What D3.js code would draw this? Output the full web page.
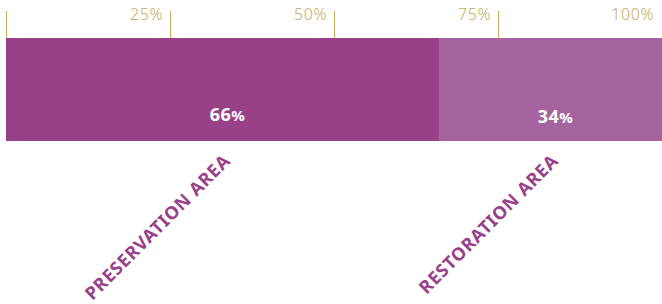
<!DOCTYPE html>
<html><head><meta charset="utf-8">
<script src="https://cdn.jsdelivr.net/npm/d3@7"></script>
<style>body{margin:0;background:#fff;} svg{display:block;}</style>
</head><body>
<svg id="c" width="662" height="304"></svg>
<script>
const categories = ["PRESERVATION AREA", "RESTORATION AREA"];
const values = [66, 34];
const tickValues = [0, 25, 50, 75, 100];
const tickLabels = ["", "25%", "50%", "75%", "100%"];
const colors = ["#984189", "#a5649e"];

const svg = d3.select("#c");
const x = d3.scaleLinear().domain([0, 100]).range([6, 662]);
const barTop = 38, barH = 103;

let cum = 0;
const segs = values.map((v, i) => { const s = {v, i, x0: cum, x1: cum + v, cat: categories[i]}; cum += v; return s; });

svg.selectAll("rect.bar").data(segs).join("rect")
  .attr("x", d => x(d.x0)).attr("y", barTop)
  .attr("width", d => x(d.x1) - x(d.x0)).attr("height", barH)
  .attr("fill", d => colors[d.i]);

// axis ticks
const ax = svg.append("g");
ax.selectAll("line").data(tickValues.filter(t => t < 100)).join("line")
  .attr("x1", d => Math.round(x(d)) + 0.5).attr("x2", d => Math.round(x(d)) + 0.5)
  .attr("y1", 11).attr("y2", barTop)
  .attr("stroke", "#c4ad5c").attr("stroke-width", 1);
ax.selectAll("text").data(tickValues).join("text")
  .attr("x", d => d === 100 ? x(d) - 8 : x(d) - 7).attr("y", 20)
  .attr("text-anchor", "end")
  .attr("font-family", "'Noto Sans', sans-serif").attr("font-weight", 300).attr("font-size", 16)
  .attr("letter-spacing", 0.6)
  .attr("fill", "#c4ad5c")
  .text((d, i) => tickLabels[i]);

// value labels
const vl = svg.selectAll("text.val").data(segs).join("text").attr("class", "val")
  .attr("x", d => (x(d.x0) + x(d.x1)) / 2 + 5).attr("y", d => d.i === 0 ? 121 : 123)
  .attr("text-anchor", "middle")
  .attr("font-family", "'Noto Sans', sans-serif").attr("font-weight", 700).attr("font-size", 18)
  .attr("letter-spacing", 0.5)
  .attr("fill", "#fff");
vl.append("tspan").text(d => d.v);
vl.append("tspan").attr("font-size", 15).text("%");

// category labels rotated
svg.selectAll("text.cat").data(segs).join("text").attr("class", "cat")
  .attr("transform", d => `translate(${(x(d.x0) + x(d.x1)) / 2 + 9},${162}) rotate(-45)`)
  .attr("text-anchor", "end")
  .attr("font-family", "'Noto Sans', sans-serif").attr("font-weight", 700).attr("font-size", 18)
  .attr("letter-spacing", 0.7)
  .attr("fill", "#984189")
  .text(d => d.cat);
</script>
</body></html>
